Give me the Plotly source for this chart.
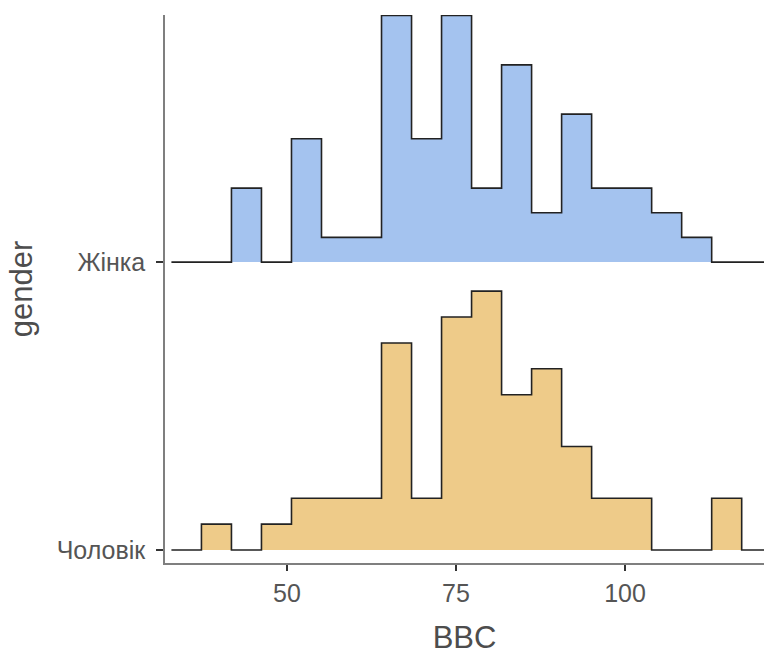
import plotly.graph_objects as go

# ---- data ----
groups = ["Чоловік", "Жінка"]
bin_start = 32.9
bin_width = 4.44
counts_male = [0, 1, 0, 1, 2, 2, 2, 8, 2, 9, 10, 6, 7, 4, 2, 2, 0, 0, 2, 0]
counts_female = [0, 0, 3, 0, 5, 1, 1, 10, 5, 10, 3, 8, 2, 6, 3, 3, 2, 1, 0, 0]
fill_colors = {"Чоловік": "#EECB89", "Жінка": "#A4C3EF"}
x_ticks = [50, 75, 100]
height_scale = 5.394

series = {"Чоловік": counts_male, "Жінка": counts_female}

fig = go.Figure()
# draw top ridge first, then lower one
for gi, g in reversed(list(enumerate(groups))):
    base = gi + 1
    cnt = series[g]
    n = sum(cnt)
    edges = [bin_start + i * bin_width for i in range(len(cnt) + 1)]
    heights = [base + c / n * height_scale for c in cnt]
    heights.append(heights[-1])
    fig.add_trace(go.Scatter(
        x=[edges[0], edges[-1]], y=[base, base], mode="lines",
        line=dict(width=0, color="rgba(0,0,0,0)"), showlegend=False, hoverinfo="skip"))
    fig.add_trace(go.Scatter(
        x=edges, y=heights, mode="lines", line_shape="hv",
        line=dict(color="#222222", width=1.6),
        fill="tonexty", fillcolor=fill_colors[g], showlegend=False))

fig.update_layout(
    width=764, height=655,
    margin=dict(l=165, r=0, t=15, b=92),
    plot_bgcolor="white", paper_bgcolor="white",
    font=dict(family="Liberation Sans, Arial, sans-serif", color="#4d4d4d"),
)
fig.update_xaxes(
    range=[31.95, 120.56], tickvals=x_ticks, ticks="outside", ticklen=6,
    tickcolor="#333333", tickwidth=1.5,
    showline=True, linecolor="#7f7f7f", linewidth=1.5, showgrid=False, zeroline=False,
    tickfont=dict(size=25, color="#555555"), ticklabelstandoff=1,
    title=dict(text="BBC", font=dict(size=31, color="#4d4d4d"), standoff=22),
)
fig.update_yaxes(
    range=[0.955, 2.858], tickvals=[1, 2], ticktext=groups, ticks="outside", ticklen=7,
    tickcolor="#333333", tickwidth=1.5,
    showline=True, linecolor="#7f7f7f", linewidth=1.5, showgrid=False, zeroline=False,
    tickfont=dict(size=25, color="#555555"), ticklabelstandoff=6,
    title=dict(text="gender", font=dict(size=31, color="#4d4d4d"), standoff=15),
)

fig.write_html("out.html")
